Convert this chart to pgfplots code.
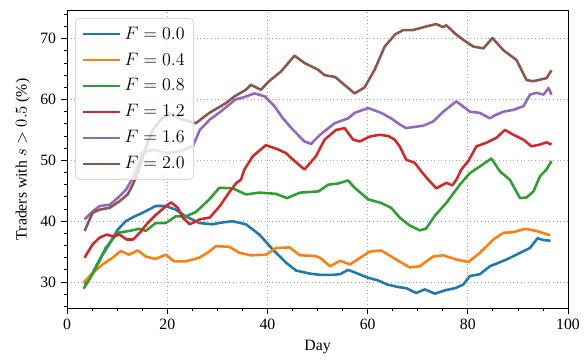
\documentclass[border=0pt]{standalone}
\usepackage{fontspec}
\setmainfont{Liberation Serif}
\usepackage{pgfplots}
\pgfplotsset{compat=1.18}
\definecolor{c0}{HTML}{1F77B4}
\definecolor{c1}{HTML}{FF7F0E}
\definecolor{c2}{HTML}{2CA02C}
\definecolor{c3}{HTML}{D62728}
\definecolor{c4}{HTML}{9467BD}
\definecolor{c5}{HTML}{8C564B}
\begin{document}
\begin{tikzpicture}
\begin{axis}[
  scale only axis, width=334pt, height=198.4pt,
  at={(0,0)}, anchor=south west,
  xmin=0, xmax=100, ymin=25.7, ymax=74.6,
  xtick={0,20,...,100}, ytick={30,40,...,70},
  minor xtick={5,10,15,25,30,35,45,50,55,65,70,75,85,90,95},
  minor ytick={26,28,32,34,36,38,42,44,46,48,52,54,56,58,62,64,66,68,72,74},
  tick align=outside, tick pos=left,
  major tick length=3.8pt, minor tick length=2.1pt,
  every tick/.style={black, line width=0.6pt},
  axis line style={line width=0.6pt},
  grid=major, major grid style={dotted, gray!70, line width=0.7pt},
  minor grid style={draw=none},
  xlabel={Day}, ylabel={Traders with $s > 0.5$ (\%)},
  /pgf/number format/assume math mode=true,
  ticklabel style={font=\fontsize{10.5}{12}\selectfont},
  label style={font=\fontsize{10.5}{12}\selectfont},
  legend style={at={(0.016,0.975)}, anchor=north west, draw=gray!30, line width=0.6pt,
    rounded corners=2.5pt, fill=white, fill opacity=0.8, text opacity=1,
    font=\fontsize{12}{14}\selectfont, row sep=3.6pt, inner xsep=4pt, inner ysep=3.5pt},
  legend cell align=left,
  legend image code/.code={\draw[#1] (0pt,0pt) -- (25pt,0pt);},
  every axis plot/.append style={line width=1.7pt, line join=round},
]
\addplot[c0] coordinates {(3.5,29.6) (5.1,31.5) (6.7,34.0) (8.4,36.2) (10.1,38.6) (11.7,40.0) (13.5,40.8) (15.1,41.4) (17.7,42.5) (19.7,42.5) (21.7,41.9) (23.7,40.8) (26.4,39.7) (29.0,39.5) (31.0,39.8) (33.0,40.0) (35.7,39.5) (38.4,37.8) (41.0,35.4) (43.7,33.2) (45.7,31.9) (48.4,31.4) (50.4,31.2) (53.1,31.2) (54.5,31.3) (56.1,32.0) (58.0,31.4) (60.1,30.7) (62.0,30.3) (63.9,29.6) (66.0,29.2) (67.7,29.0) (69.7,28.2) (71.4,28.8) (73.4,28.1) (75.7,28.7) (77.5,29.0) (79.1,29.6) (80.4,31.0) (82.4,31.3) (84.4,32.6) (87.7,33.7) (90.4,34.8) (92.4,35.6) (93.9,37.2) (95.1,36.9) (96.5,36.8)};
\addlegendentry{$F = 0.0$}
\addplot[c1] coordinates {(3.3,29.9) (5.1,31.5) (7.1,32.9) (9.1,34.0) (10.7,35.1) (12.4,34.5) (14.1,35.2) (15.7,34.2) (17.7,33.8) (19.7,34.5) (21.4,33.4) (23.7,33.4) (26.4,34.0) (28.0,34.8) (29.7,35.9) (32.4,35.8) (34.4,34.8) (36.7,34.4) (39.7,34.5) (41.7,35.6) (44.4,35.7) (46.5,34.4) (49.4,34.3) (50.5,34.0) (52.5,32.6) (54.5,33.5) (56.5,32.9) (58.5,34.0) (60.4,35.0) (62.7,35.2) (65.7,33.7) (68.4,32.4) (70.4,32.6) (73.1,34.2) (75.1,34.4) (77.7,33.7) (80.1,33.3) (82.4,34.8) (85.1,37.0) (87.1,38.1) (89.1,38.2) (91.4,38.75) (93.7,38.4) (96.4,37.7)};
\addlegendentry{$F = 0.4$}
\addplot[c2] coordinates {(3.3,28.9) (5.1,31.3) (6.5,33.5) (7.7,35.6) (10.1,38.1) (12.4,38.4) (14.4,38.75) (15.7,38.4) (17.7,39.7) (19.7,39.7) (21.7,40.8) (23.7,40.8) (25.7,41.5) (28.4,43.6) (30.4,45.5) (33.1,45.4) (35.7,44.4) (38.4,44.7) (41.7,44.5) (43.9,43.8) (46.5,44.7) (50.2,44.9) (52.1,46.0) (54.1,46.2) (56.1,46.7) (57.4,45.5) (60.1,43.6) (62.7,43.0) (64.7,42.2) (66.4,40.6) (68.4,39.3) (70.4,38.5) (71.7,38.8) (73.4,40.9) (75.7,43.0) (78.4,46.0) (80.4,47.9) (82.4,49.0) (84.7,50.3) (86.4,48.2) (88.4,46.8) (90.4,43.8) (91.7,43.9) (93.1,44.9) (94.4,47.4) (95.7,48.5) (96.7,49.9)};
\addlegendentry{$F = 0.8$}
\addplot[c3] coordinates {(3.5,34.0) (5.1,36.2) (6.5,37.3) (7.9,37.8) (9.2,37.5) (10.5,37.8) (11.9,37.0) (13.2,37.0) (14.5,38.1) (16.1,39.7) (17.8,41.1) (19.8,42.5) (20.8,43.1) (22.1,42.2) (23.1,40.6) (24.5,39.5) (26.5,40.3) (28.5,40.6) (30.5,42.5) (32.5,44.9) (33.8,46.3) (34.7,46.8) (35.4,48.5) (37.1,50.7) (39.7,52.5) (42.1,51.8) (43.7,51.2) (44.7,50.4) (47.4,48.5) (49.7,50.7) (51.4,53.4) (53.7,55.0) (55.4,55.3) (57.1,53.4) (58.4,53.1) (60.4,53.9) (62.4,54.2) (64.1,54.0) (65.4,53.4) (66.4,52.3) (67.7,50.1) (69.4,49.6) (70.7,48.2) (71.7,47.2) (73.7,45.4) (75.7,46.3) (76.9,45.9) (77.7,46.8) (78.7,48.5) (80.1,49.9) (81.7,52.3) (83.7,52.9) (85.7,53.7) (87.4,55.0) (89.1,54.2) (91.1,53.4) (92.7,52.3) (94.4,52.6) (95.7,52.95) (96.7,52.6)};
\addlegendentry{$F = 1.2$}
\addplot[c4] coordinates {(3.5,40.3) (5.1,41.6) (6.5,42.5) (8.5,42.7) (10.1,43.8) (11.8,45.2) (13.1,47.1) (14.1,49.0) (15.1,51.2) (17.1,51.8) (19.8,51.2) (22.5,51.5) (25.1,52.3) (26.5,55.0) (28.5,56.7) (31.1,58.3) (33.6,60.0) (35.4,60.4) (37.4,61.0) (39.5,60.5) (41.4,58.9) (43.0,57.0) (45.1,55.0) (47.4,53.1) (48.7,52.7) (50.5,54.2) (53.4,56.1) (56.1,56.9) (57.4,57.8) (60.1,58.6) (62.7,57.8) (64.7,56.9) (66.4,55.9) (67.7,55.3) (71.1,55.7) (73.1,56.4) (75.1,58.0) (77.7,59.7) (80.4,58.0) (82.4,57.8) (84.4,56.9) (85.4,57.4) (87.1,58.0) (89.1,58.3) (91.1,58.9) (92.4,60.8) (93.7,61.1) (95.1,60.8) (96.1,61.9) (96.7,60.8)};
\addlegendentry{$F = 1.6$}
\addplot[c5] coordinates {(3.5,38.4) (5.1,41.4) (6.5,41.9) (8.5,42.2) (10.5,43.3) (12.1,44.4) (13.1,46.0) (14.1,47.9) (15.5,51.5) (17.1,55.0) (18.5,56.5) (20.4,57.8) (23.1,56.7) (25.7,56.1) (28.4,57.8) (31.7,59.4) (33.4,60.5) (35.7,61.6) (36.7,62.4) (38.7,61.6) (40.3,63.0) (42.7,64.6) (45.4,67.2) (47.4,66.0) (50.1,64.9) (51.4,64.0) (53.5,63.7) (56.1,61.9) (57.4,61.0) (59.4,62.0) (61.4,64.9) (62.4,66.8) (63.4,68.7) (65.5,70.7) (67.1,71.4) (69.0,71.4) (71.7,72.0) (73.7,72.4) (75.0,71.9) (75.7,72.2) (77.5,70.8) (79.1,69.8) (81.1,68.7) (83.1,68.4) (84.9,70.1) (87.1,68.1) (89.7,66.5) (91.7,63.2) (93.0,63.0) (95.7,63.5) (96.7,64.8)};
\addlegendentry{$F = 2.0$}
\end{axis}
\pgfresetboundingbox
\path[use as bounding box] (-44.7pt,-35.8pt) rectangle (345.3pt,205.5pt);
\end{tikzpicture}
\end{document}
